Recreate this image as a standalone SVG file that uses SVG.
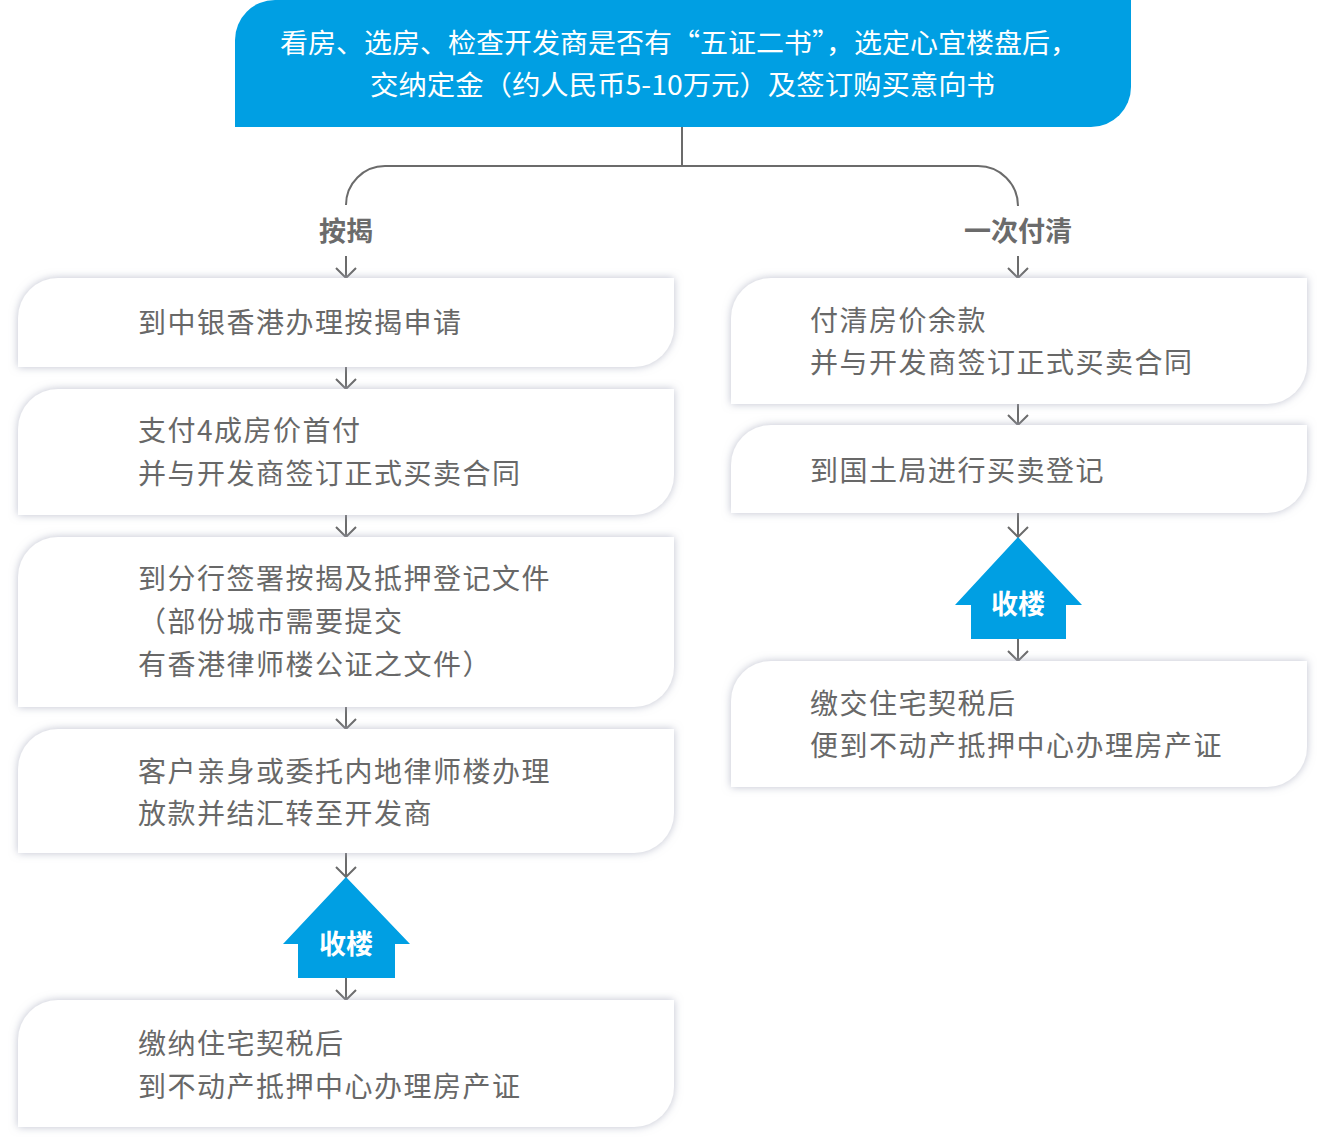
<svg xmlns="http://www.w3.org/2000/svg" width="1325" height="1145" viewBox="0 0 1325 1145">
<defs>
<style>
.box{fill:#ffffff;filter:url(#sh)}
.blue{fill:#009fe3}
.t{font-family:"Noto Sans CJK SC","Noto Sans",sans-serif;font-size:28px;fill:#686868;letter-spacing:1.5px}
.tw{font-family:"Noto Sans CJK SC","Noto Sans",sans-serif;font-size:27px;fill:#ffffff}
.h{font-family:"Noto Sans CJK SC","Noto Sans",sans-serif;font-size:27px;font-weight:bold;fill:#6b6b6b;text-anchor:middle}
.hw{font-family:"Noto Sans CJK SC","Noto Sans",sans-serif;font-size:27px;font-weight:bold;fill:#ffffff;text-anchor:middle}
.ln{fill:none;stroke:#6b6b6b;stroke-width:2}
.ar{fill:none;stroke:#6b6b6b;stroke-width:2;marker-end:url(#arr)}
</style>
<filter id="sh" x="-10%" y="-20%" width="120%" height="140%">
<feGaussianBlur in="SourceAlpha" stdDeviation="4"/>
<feOffset dx="0" dy="0" result="b"/>
<feFlood flood-color="#a9adbf" flood-opacity="0.75"/>
<feComposite in2="b" operator="in"/>
<feMerge><feMergeNode/><feMergeNode in="SourceGraphic"/></feMerge>
</filter>
<marker id="arr" viewBox="0 0 12 22" refX="11" refY="11" markerWidth="12" markerHeight="22" markerUnits="userSpaceOnUse" orient="auto">
<path d="M1,1 L11,11 L1,21" fill="none" stroke="#6b6b6b" stroke-width="2"/>
</marker>
</defs>

<g id="top">
<path class="blue" d="M235,40 A40,40 0 0 1 275,0 H1131 V87 A40,40 0 0 1 1091,127 H235 Z"/>
<text class="tw" x="280" y="53" textLength="798" lengthAdjust="spacingAndGlyphs">看房、选房、检查开发商是否有“五证二书”，选定心宜楼盘后，</text>
<text class="tw" x="370" y="95" textLength="625" lengthAdjust="spacingAndGlyphs">交纳定金（约人民币5-10万元）及签订购买意向书</text>
</g>

<g id="connectors">
<path class="ln" d="M682,127 V166 M385,166 H978 M385,166 A39,39 0 0 0 346,205 M978,166 A40,40 0 0 1 1018,206"/>
<line class="ar" x1="346" y1="256" x2="346" y2="278"/>
<line class="ar" x1="346" y1="367" x2="346" y2="389"/>
<line class="ar" x1="346" y1="515" x2="346" y2="537"/>
<line class="ar" x1="346" y1="707" x2="346" y2="729"/>
<line class="ar" x1="346" y1="853" x2="346" y2="877"/>
<line class="ar" x1="346" y1="978" x2="346" y2="1000"/>
<line class="ar" x1="1018" y1="256" x2="1018" y2="278"/>
<line class="ar" x1="1018" y1="404" x2="1018" y2="425"/>
<line class="ar" x1="1018" y1="513" x2="1018" y2="537"/>
<line class="ar" x1="1018" y1="639" x2="1018" y2="661"/>
</g>

<g id="label-mortgage"><text class="h" x="346" y="241">按揭</text></g>
<g id="label-full"><text class="h" x="1018" y="241">一次付清</text></g>

<g id="L1">
<path class="box" d="M18,318 A40,40 0 0 1 58,278 H674 V327 A40,40 0 0 1 634,367 H18 Z"/>
<text class="t" x="138" y="333">到中银香港办理按揭申请</text>
</g>
<g id="L2">
<path class="box" d="M18,429 A40,40 0 0 1 58,389 H674 V475 A40,40 0 0 1 634,515 H18 Z"/>
<text class="t" x="138" y="441">支付4成房价首付</text>
<text class="t" x="138" y="484">并与开发商签订正式买卖合同</text>
</g>
<g id="L3">
<path class="box" d="M18,577 A40,40 0 0 1 58,537 H674 V667 A40,40 0 0 1 634,707 H18 Z"/>
<text class="t" x="138" y="589">到分行签署按揭及抵押登记文件</text>
<text class="t" x="138" y="632">（部份城市需要提交</text>
<text class="t" x="138" y="675">有香港律师楼公证之文件）</text>
</g>
<g id="L4">
<path class="box" d="M18,769 A40,40 0 0 1 58,729 H674 V813 A40,40 0 0 1 634,853 H18 Z"/>
<text class="t" x="138" y="782">客户亲身或委托内地律师楼办理</text>
<text class="t" x="138" y="824">放款并结汇转至开发商</text>
</g>
<g id="L-house">
<path class="blue" d="M346,877 L410,944 H395 V978 H298 V944 H283 Z"/>
<text class="hw" x="346" y="954">收楼</text>
</g>
<g id="L5">
<path class="box" d="M18,1040 A40,40 0 0 1 58,1000 H674 V1087 A40,40 0 0 1 634,1127 H18 Z"/>
<text class="t" x="138" y="1054">缴纳住宅契税后</text>
<text class="t" x="138" y="1097">到不动产抵押中心办理房产证</text>
</g>

<g id="R1">
<path class="box" d="M731,318 A40,40 0 0 1 771,278 H1307 V364 A40,40 0 0 1 1267,404 H731 Z"/>
<text class="t" x="810" y="331">付清房价余款</text>
<text class="t" x="810" y="373">并与开发商签订正式买卖合同</text>
</g>
<g id="R2">
<path class="box" d="M731,465 A40,40 0 0 1 771,425 H1307 V473 A40,40 0 0 1 1267,513 H731 Z"/>
<text class="t" x="810" y="481">到国土局进行买卖登记</text>
</g>
<g id="R-house">
<path class="blue" d="M1018,537 L1082,605 H1066 V639 H971 V605 H955 Z"/>
<text class="hw" x="1018" y="614">收楼</text>
</g>
<g id="R3">
<path class="box" d="M731,701 A40,40 0 0 1 771,661 H1307 V747 A40,40 0 0 1 1267,787 H731 Z"/>
<text class="t" x="810" y="714">缴交住宅契税后</text>
<text class="t" x="810" y="756">便到不动产抵押中心办理房产证</text>
</g>
</svg>
